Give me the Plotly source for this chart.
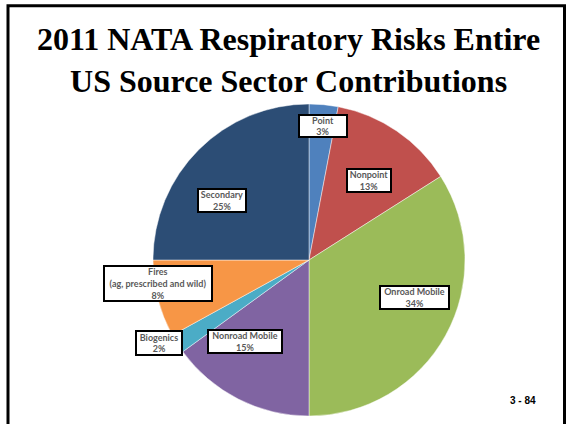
import plotly.graph_objects as go

# ---- data ----
categories = ["Point", "Nonpoint", "Onroad Mobile", "Nonroad Mobile",
              "Biogenics", "Fires (ag, prescribed and wild)", "Secondary"]
label_text = ["Point", "Nonpoint", "Onroad Mobile", "Nonroad Mobile",
              "Biogenics", "Fires<br>(ag, prescribed and wild)", "Secondary"]
values = [3, 13, 34, 15, 2, 8, 25]
colors = ["#4F81BD", "#C0504D", "#9BBB59", "#8064A2",
          "#4BACC6", "#F79646", "#2C4D75"]
title_text = "2011 NATA Respiratory Risks Entire<br>US Source Sector Contributions"
page_no = "3 - 84"

# ---- layout params (pixels) ----
W, H = 570, 424
cx, cy, r = 309, 260, 156
# label box centres and sizes (px)
label_pos = [(323, 126), (369, 181), (414, 297), (245, 341),
             (159, 343), (158, 283), (222, 200)]
label_size = [(50, 24), (46, 25), (71, 25), (76, 25),
              (48, 26), (110, 37), (50, 25)]

fig = go.Figure()
fig.add_trace(go.Pie(
    labels=categories, values=values, sort=False, direction="clockwise",
    rotation=0, textinfo="none", hoverinfo="label+percent",
    marker=dict(colors=colors, line=dict(color="rgba(255,255,255,0.45)", width=1)),
    domain=dict(x=[(cx - r) / W, (cx + r) / W],
                y=[(H - cy - r) / H, (H - cy + r) / H]),
    showlegend=False,
))

anns = []
for txt, v, (px, py), (bw, bh) in zip(label_text, values, label_pos, label_size):
    anns.append(dict(
        x=px / W, y=1 - py / H, xref="paper", yref="paper",
        xanchor="center", yanchor="middle", showarrow=False,
        text=f"<b>{txt}<br>{v}%</b>",
        font=dict(family="Lato, Liberation Sans, sans-serif", size=9, color="#595959"),
        align="center", bgcolor="white", bordercolor="black", borderwidth=2,
        borderpad=1, width=bw - 6, height=bh - 6,
    ))

anns.append(dict(
    x=288 / W, y=1 - 19 / H, xref="paper", yref="paper",
    xanchor="center", yanchor="top", showarrow=False,
    text=f"<b>{title_text}</b>",
    font=dict(family="Liberation Serif, serif", size=32, color="black"),
    align="center",
))
anns.append(dict(
    x=523 / W, y=1 - 400 / H, xref="paper", yref="paper",
    xanchor="center", yanchor="middle", showarrow=False,
    text=f"<b>{page_no}</b>",
    font=dict(family="Liberation Sans, Arial, sans-serif", size=10, color="black"),
))

fig.update_layout(
    width=W, height=H, margin=dict(l=0, r=0, t=0, b=0),
    paper_bgcolor="white", plot_bgcolor="white",
    annotations=anns,
    shapes=[dict(type="rect", xref="paper", yref="paper",
                 x0=8 / W, x1=564.5 / W, y0=-0.05, y1=1 - 5.7 / H,
                 line=dict(color="black", width=3), fillcolor="rgba(0,0,0,0)")],
)

fig.write_html("out.html", config={"displayModeBar": False},
               post_script="document.body.style.margin='0';document.body.style.overflow='hidden';")
